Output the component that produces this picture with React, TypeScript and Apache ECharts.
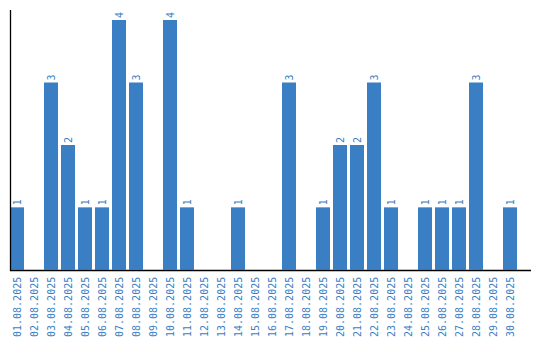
import React, { useEffect, useRef } from "react";
import * as echarts from "echarts";

const categories = [
  "01.08.2025","02.08.2025","03.08.2025","04.08.2025","05.08.2025","06.08.2025",
  "07.08.2025","08.08.2025","09.08.2025","10.08.2025","11.08.2025","12.08.2025",
  "13.08.2025","14.08.2025","15.08.2025","16.08.2025","17.08.2025","18.08.2025",
  "19.08.2025","20.08.2025","21.08.2025","22.08.2025","23.08.2025","24.08.2025",
  "25.08.2025","26.08.2025","27.08.2025","28.08.2025","29.08.2025","30.08.2025",
];
const values = [1,0,3,2,1,1,4,3,0,4,1,0,0,1,0,0,3,0,1,2,2,3,1,0,1,1,1,3,0,1];

const BLUE = "#3a7ec3";
const FONT = "'DejaVu Sans Mono', monospace";

export default function App() {
  const ref = useRef<HTMLDivElement>(null);
  useEffect(() => {
    const chart = echarts.init(ref.current!, null, { renderer: "svg" });
    chart.setOption({
      animation: false,
      grid: { left: 8.5, right: 21.5, top: 20, bottom: 70 },
      xAxis: {
        type: "category",
        data: categories,
        axisLine: { show: false },
        axisTick: { show: false },
        axisLabel: {
          rotate: 90,
          interval: 0,
          margin: 7,
          color: BLUE,
          fontFamily: FONT,
          fontSize: 10,
        },
      },
      yAxis: {
        type: "value",
        min: 0,
        max: 4,
        axisLine: { show: false },
        axisTick: { show: false },
        axisLabel: { show: false },
        splitLine: { show: false },
      },
      graphic: [
        { type: "line", shape: { x1: 10.5, y1: 10, x2: 10.5, y2: 271 }, style: { stroke: "#000", lineWidth: 1.3 }, z: 10 },
        { type: "line", shape: { x1: 10, y1: 270.5, x2: 531, y2: 270.5 }, style: { stroke: "#000", lineWidth: 1.3 }, z: 10 },
      ],
      series: [
        {
          type: "bar",
          data: values,
          barWidth: 14,
          itemStyle: { color: BLUE },
          label: {
            show: true,
            position: "top",
            rotate: 90,
            align: "left",
            verticalAlign: "middle",
            distance: 2,
            color: BLUE,
            fontFamily: FONT,
            fontSize: 10,
            formatter: (p: any) => (p.value ? String(p.value) : ""),
          },
        },
      ],
    });
    return () => chart.dispose();
  }, []);
  return (
    <div
      ref={ref}
      style={{ position: "fixed", left: 0, top: 0, width: 540, height: 340, background: "#fff" }}
    />
  );
}
